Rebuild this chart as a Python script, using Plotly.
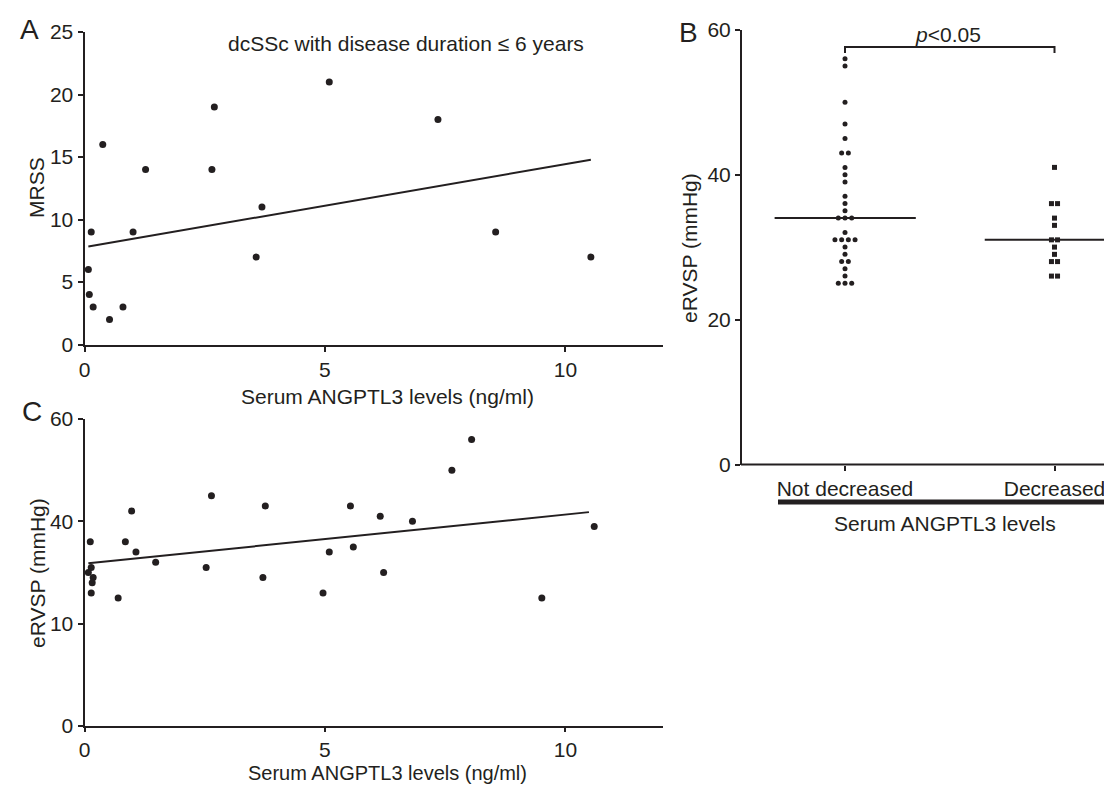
import plotly.graph_objects as go
from collections import Counter

# ---------------- data ----------------
# Panel A: dcSSc with disease duration <= 6 years
a_angptl3 = [0.08, 0.10, 0.14, 0.18, 0.38, 0.52, 0.80, 1.01, 1.27, 2.65, 2.70, 3.57, 3.69, 5.09, 7.35, 8.55, 10.53]
a_mrss = [6, 4, 9, 3, 16, 2, 3, 9, 14, 14, 19, 7, 11, 21, 18, 9, 7]
a_fit_x = [0.08, 10.53]
a_fit_y = [7.84, 14.78]

# Panel B: eRVSP by serum ANGPTL3 category
b_categories = ["Not decreased", "Decreased"]
b_not_decreased = [56, 55, 50, 47, 45, 43, 43, 41, 40, 39, 37, 36, 35, 34, 34, 34, 32,
                   31, 31, 31, 31, 30, 29, 28, 28, 27, 26, 25, 25, 25]
b_decreased = [41, 36, 36, 34, 33, 31, 31, 30, 29, 28, 28, 26, 26]
b_pvalue_text = "<i>p</i>&lt;0.05"

# Panel C: eRVSP vs serum ANGPTL3
c_angptl3 = [0.08, 0.12, 0.14, 0.18, 0.16, 0.14, 0.70, 0.85, 0.98, 1.07, 1.48, 2.53, 2.64,
             3.71, 3.76, 4.96, 5.09, 5.53, 5.59, 6.15, 6.22, 6.82, 7.64, 8.05, 9.51, 10.60]
c_ervsp = [30, 36, 31, 29, 28, 26, 25, 36, 42, 34, 32, 31, 45, 29, 43, 26, 34, 43, 35, 41,
           30, 40, 50, 56, 25, 39]
c_fit_x = [0.08, 10.49]
c_fit_y = [31.8, 41.8]
c_tickvals = [0, 20, 40, 60]
c_ticktext = ["0", "10", "40", "60"]

# ---------------- style ----------------
INK = "#231f20"
FONT = "Liberation Sans, Arial, Helvetica, sans-serif"
FS = 21
W, H = 1112, 787


def px_x(p):
    return p / W


def px_y(p):
    return 1 - p / H


def swarm(vals, center, step):
    counts = Counter(vals)
    seen = {}
    xs = []
    for v in vals:
        n = counts[v]
        i = seen.get(v, 0)
        seen[v] = i + 1
        xs.append(center + (i - (n - 1) / 2) * step)
    return xs


def median(vals):
    s = sorted(vals)
    n = len(s)
    return s[n // 2] if n % 2 else (s[n // 2 - 1] + s[n // 2]) / 2


fig = go.Figure()

# Panel A
fig.add_trace(go.Scatter(x=a_angptl3, y=a_mrss, mode="markers", xaxis="x", yaxis="y",
                         marker=dict(color=INK, size=7), cliponaxis=False, showlegend=False))
fig.add_trace(go.Scatter(x=a_fit_x, y=a_fit_y, mode="lines", xaxis="x", yaxis="y",
                         line=dict(color=INK, width=2), showlegend=False))

# Panel B
x1 = swarm(b_not_decreased, 1, 0.032)
x2 = swarm(b_decreased, 2, 0.029)
fig.add_trace(go.Scatter(x=x1, y=b_not_decreased, mode="markers", xaxis="x2", yaxis="y2",
                         marker=dict(color=INK, size=5, symbol="circle"), cliponaxis=False,
                         showlegend=False))
fig.add_trace(go.Scatter(x=x2, y=b_decreased, mode="markers", xaxis="x2", yaxis="y2",
                         marker=dict(color=INK, size=5, symbol="square"), cliponaxis=False,
                         showlegend=False))
m1, m2 = median(b_not_decreased), median(b_decreased)
fig.add_trace(go.Scatter(x=[0.664, 1.338], y=[m1, m1], mode="lines", xaxis="x2", yaxis="y2",
                         line=dict(color=INK, width=2), showlegend=False))
fig.add_trace(go.Scatter(x=[1.667, 2.34], y=[m2, m2], mode="lines", xaxis="x2", yaxis="y2",
                         line=dict(color=INK, width=2), showlegend=False))
# significance bracket
fig.add_trace(go.Scatter(x=[1, 1, 2, 2], y=[56.8, 57.6, 57.6, 56.8], mode="lines",
                         xaxis="x2", yaxis="y2", line=dict(color=INK, width=2),
                         showlegend=False))

# Panel C
fig.add_trace(go.Scatter(x=c_angptl3, y=c_ervsp, mode="markers", xaxis="x3", yaxis="y3",
                         marker=dict(color=INK, size=7), cliponaxis=False, showlegend=False))
fig.add_trace(go.Scatter(x=c_fit_x, y=c_fit_y, mode="lines", xaxis="x3", yaxis="y3",
                         line=dict(color=INK, width=2), showlegend=False))

axis_common = dict(showline=True, linewidth=2, linecolor=INK, ticks="outside", ticklen=5,
                   tickwidth=2, tickcolor=INK, showgrid=False, zeroline=False,
                   tickfont=dict(family=FONT, size=FS, color=INK), automargin=False,
                   fixedrange=True)

dom_ax = [px_x(76.5), px_x(655)]
dom_ay = [px_y(336.5), px_y(24)]
dom_cy = [px_y(718), px_y(411)]
dom_bx = [px_x(734), 1.0]
dom_by = [px_y(456.5), px_y(21.7)]

b_left = 1 - (837 - 734) / 209.5
b_right = 2 + (1112 - 1046.5) / 209.5

fig.update_layout(
    width=W, height=H, margin=dict(l=0, r=0, t=0, b=0),
    paper_bgcolor="white", plot_bgcolor="white",
    font=dict(family=FONT, size=FS, color=INK),
    xaxis=dict(domain=dom_ax, range=[0, 12.03], tickvals=[0, 5, 10], anchor="y", **axis_common),
    yaxis=dict(domain=dom_ay, range=[0, 25], tickvals=[0, 5, 10, 15, 20, 25], anchor="x",
               **axis_common),
    xaxis2=dict(domain=dom_bx, range=[b_left, b_right], tickvals=[1, 2], ticktext=b_categories,
                anchor="y2", **{**axis_common, "showline": False}),
    yaxis2=dict(domain=dom_by, range=[0, 60], tickvals=[0, 20, 40, 60], anchor="x2",
                **axis_common),
    xaxis3=dict(domain=dom_ax, range=[0, 12.03], tickvals=[0, 5, 10], anchor="y3",
                **{**axis_common, "ticklen": 4}),
    yaxis3=dict(domain=dom_cy, range=[0, 60], tickvals=c_tickvals, ticktext=c_ticktext,
                anchor="x3", **axis_common),
)

shapes = [
    # panel B x-axis line
    dict(type="line", xref="paper", yref="paper", x0=px_x(733), x1=px_x(1107),
         y0=dom_by[0], y1=dom_by[0], line=dict(color=INK, width=2)),
    # thick bar under category labels
    dict(type="line", xref="paper", yref="paper", x0=px_x(770), x1=px_x(1107),
         y0=px_y(494), y1=px_y(494), line=dict(color=INK, width=5)),
]
fig.update_layout(shapes=shapes)

def ann(text, x, y, size=FS, angle=0, xanchor="center"):
    return dict(text=text, x=px_x(x), y=px_y(y), xref="paper", yref="paper",
                showarrow=False, textangle=angle, xanchor=xanchor, yanchor="middle",
                font=dict(family=FONT, size=size, color=INK))

annotations = [
    ann("A", 21.7, 22, size=28),
    ann("B", 680, 24, size=28),
    ann("C", 24, 403, size=28),
    ann("dcSSc with disease duration ≤ 6 years", 398, 36),
    ann("MRSS", 29, 180, angle=-90),
    ann("Serum ANGPTL3 levels (ng/ml)", 379, 389),
    ann("eRVSP (mmHg)", 682, 240, angle=-90),
    ann("Serum ANGPTL3 levels", 937, 515),
    ann("eRVSP (mmHg)", 29, 565, angle=-90),
    ann("Serum ANGPTL3 levels (ng/ml)", 379, 765, size=20),
    dict(text=b_pvalue_text, x=1.494, y=59.3, xref="x2", yref="y2", showarrow=False,
         xanchor="center", yanchor="middle", font=dict(family=FONT, size=FS, color=INK)),
]
fig.update_layout(annotations=annotations)

fig.write_html("out.html")
